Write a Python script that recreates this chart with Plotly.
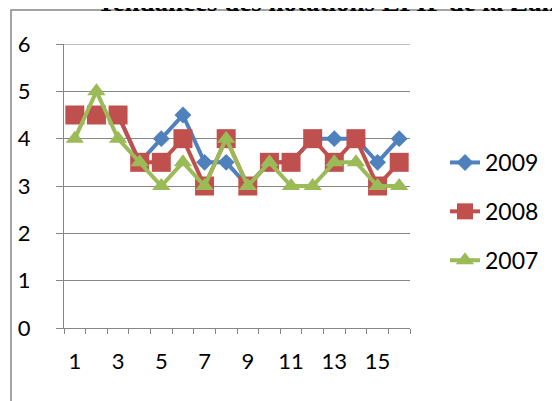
import plotly.graph_objects as go

categories = [str(i) for i in range(1, 17)]
tick_labels = [c if int(c) % 2 == 1 else "" for c in categories]
s2009 = [4.5, 4.5, 4.5, 3.5, 4, 4.5, 3.5, 3.5, 3, 3.5, 3.5, 4, 4, 4, 3.5, 4]
s2008 = [4.5, 4.5, 4.5, 3.5, 3.5, 4, 3, 4, 3, 3.5, 3.5, 4, 3.5, 4, 3, 3.5]
s2007 = [4, 5, 4, 3.5, 3, 3.5, 3, 4, 3, 3.5, 3, 3, 3.5, 3.5, 3, 3]
y_ticks = [0, 1, 2, 3, 4, 5, 6]
title_text = "Tendances des notations EPIP de la Zambie"

W, H = 560, 401
OFF = 8  # page body margin
# plot area in screen pixels
L, R, T, B = 64, 410, 44, 328
pw, ph = R - L, B - T

def px(x):
    return (x - L) / pw

def py(y):
    return (B - y) / ph

GRAY = "#868686"
FONT = "Lato"

fig = go.Figure()
series = [
    ("2009", s2009, "#4F81BD", "diamond", 13),
    ("2008", s2008, "#C0504D", "square", 19),
    ("2007", s2007, "#9BBB59", "triangle-up", 16),
]
for name, vals, col, sym, sz in series:
    fig.add_trace(go.Scatter(
        x=categories, y=vals, name=name, mode="lines+markers",
        line=dict(color=col, width=4),
        marker=dict(symbol=sym, size=sz, color=col),
        legendgroup=name,
    ))

fig.update_layout(
    width=W, height=H,
    margin=dict(l=L - OFF, r=W - (R - OFF), t=T - OFF, b=H - (B - OFF), pad=0, autoexpand=False),
    paper_bgcolor="white", plot_bgcolor="white",
    font=dict(family=FONT, size=22, color="black"),
    showlegend=True,
    legend=dict(
        x=px(445), y=py(141), xanchor="left", yanchor="top",
        traceorder="grouped", tracegroupgap=16,
        font=dict(family=FONT, size=23, color="black"),
        bgcolor="rgba(0,0,0,0)",
    ),
    xaxis=dict(
        type="category", categoryorder="array", categoryarray=categories,
        range=[-0.5, len(categories) - 0.5], autorange=False,
        tickvals=categories, ticktext=tick_labels, tickangle=0,
        tickson="boundaries", ticks="outside", ticklen=5, tickcolor=GRAY,
        showline=True, linecolor=GRAY, linewidth=1,
        showgrid=False, zeroline=False, automargin=False,
        ticklabelstandoff=14,
        tickfont=dict(family=FONT, size=22, color="black"),
    ),
    yaxis=dict(
        range=[y_ticks[0], y_ticks[-1]], autorange=False,
        tickvals=y_ticks,
        ticks="outside", ticklen=7, tickcolor=GRAY,
        showline=True, linecolor=GRAY, linewidth=1,
        showgrid=True, gridcolor=GRAY, gridwidth=1,
        zeroline=False, automargin=False,
        ticklabelstandoff=21,
        tickfont=dict(family=FONT, size=22, color="black"),
    ),
    shapes=[
        dict(
            type="rect", xref="paper", yref="paper",
            x0=px(11), x1=px(600), y0=py(440), y1=py(10),
            line=dict(color=GRAY, width=1.5), fillcolor="rgba(0,0,0,0)", layer="below",
        ),
        dict(
            type="line", xref="paper", yref="y",
            x0=0, x1=1, y0=y_ticks[-1], y1=y_ticks[-1],
            line=dict(color=GRAY, width=1), layer="below",
        ),
    ],
    annotations=[dict(
        text="<b>" + title_text + "</b>", xref="paper", yref="paper",
        x=px(95), y=py(19), xanchor="left", yanchor="bottom", showarrow=False,
        font=dict(family="Liberation Serif", size=27, color="black"),
    )],
)

fig.write_html("out.html")
